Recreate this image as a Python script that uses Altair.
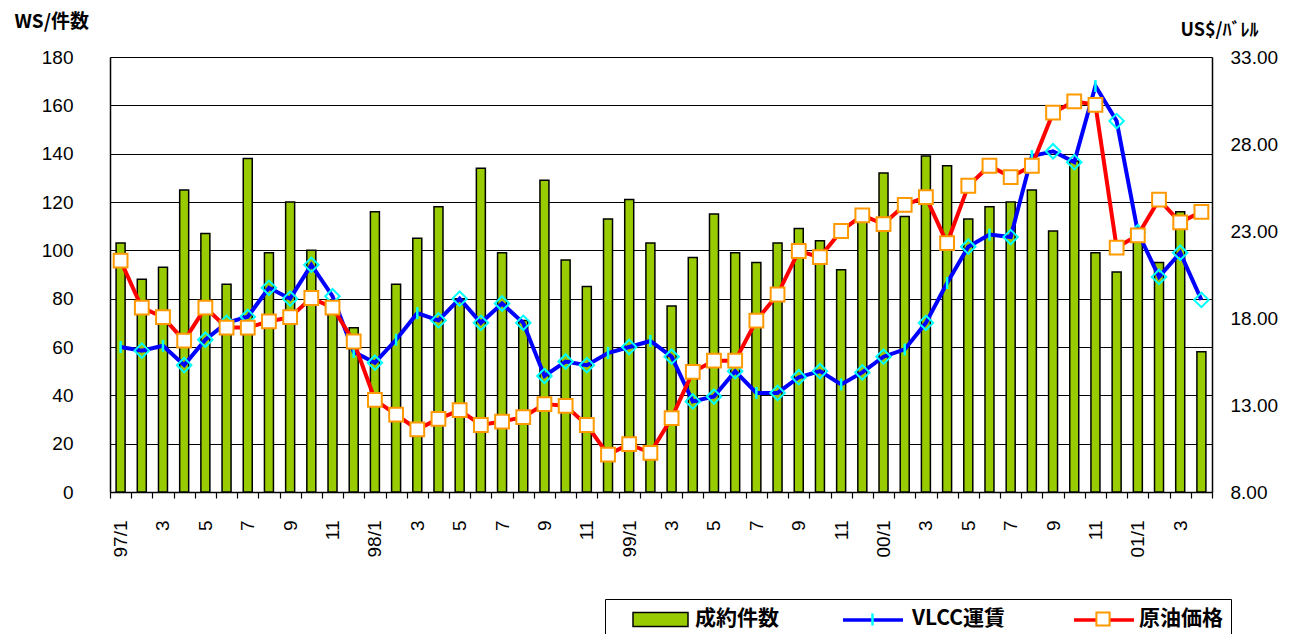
import altair as alt
import pandas as pd

months = ["97/1", "97/2", "97/3", "97/4", "97/5", "97/6", "97/7", "97/8", "97/9", "97/10", "97/11", "97/12",
          "98/1", "98/2", "98/3", "98/4", "98/5", "98/6", "98/7", "98/8", "98/9", "98/10", "98/11", "98/12",
          "99/1", "99/2", "99/3", "99/4", "99/5", "99/6", "99/7", "99/8", "99/9", "99/10", "99/11", "99/12",
          "00/1", "00/2", "00/3", "00/4", "00/5", "00/6", "00/7", "00/8", "00/9", "00/10", "00/11", "00/12",
          "01/1", "01/2", "01/3", "01/4"]

contracts = [103, 88, 93, 125, 107, 86, 138, 99, 120, 100, 79, 68,
             116, 86, 105, 118, 80, 134, 99, 71, 129, 96, 85, 113,
             121, 103, 77, 97, 115, 99, 95, 103, 109, 104, 92, 114,
             132, 114, 139, 135, 113, 118, 120, 125, 108, 137, 99, 91,
             108, 95, 116, 58]

vlcc = [60, 58.5, 60.5, 52.5, 63, 70, 72.5, 84.5, 80, 94, 81, 58,
        53.5, 63, 74, 71, 80, 70, 78, 70, 48, 54, 52.5, 57.5,
        60, 62.5, 56, 37.5, 39.5, 50, 41, 41, 47.5, 50, 44.5, 49.5,
        56, 59, 70, 86.5, 101.5, 106.5, 105.5, 139, 141, 136.5, 168, 153.5,
        107.5, 89, 99, 79.5]

crude = [21.3, 18.6, 18.05, 16.7, 18.6, 17.45, 17.45, 17.8, 18.05, 19.15, 18.6, 16.65,
         13.3, 12.45, 11.6, 12.2, 12.7, 11.85, 12.05, 12.3, 13.05, 12.95, 11.85, 10.15,
         10.75, 10.25, 12.25, 14.9, 15.55, 15.55, 17.85, 19.35, 21.85, 21.5, 23.0, 23.9,
         23.4, 24.5, 24.95, 22.3, 25.6, 26.75, 26.1, 26.75, 29.8, 30.45, 30.25, 22.05,
         22.75, 24.8, 23.5, 24.1]

# marker kind seen on the VLCC line: T = tick, D = diamond
vlcc_marker = ["T", "D", "T", "D", "D", "D", "D", "D", "D", "D", "D", "T",
               "D", "T", "T", "D", "D", "D", "D", "D", "D", "D", "D", "T",
               "D", "T", "D", "D", "D", "D", "T", "D", "D", "D", "T", "D",
               "D", "T", "D", "T", "D", "T", "D", "T", "D", "D", "T", "D",
               "D", "D", "D", "D"]

series_names = ["成約件数", "VLCC運賃", "原油価格"]
left_ticks = [0, 20, 40, 60, 80, 100, 120, 140, 160, 180]
right_ticks = [8, 13, 18, 23, 28, 33]

df = pd.DataFrame({
    "month": months,
    "contracts": contracts,
    "vlcc": vlcc,
    "crude": crude,
    "marker": vlcc_marker,
    "s_bar": series_names[0],
    "s_vl": series_names[1],
    "s_cr": series_names[2],
})

GREEN = "#99CC00"
BLUE = "#0000FF"
CYAN = "#00FFFF"
RED = "#FF0000"
ORANGE = "#FF9900"
T = "transparent"
NUMFONT = "Liberation Sans"
JPFONT = "Noto Sans CJK JP"

x_enc = alt.X(
    "month:N",
    scale=alt.Scale(domain=months, paddingInner=0, paddingOuter=0),
    axis=alt.Axis(
        title=None, labelAngle=-90, tickBand="extent", tickSize=6, tickColor="black", tickWidth=1.2,
        labelPadding=22, labelFont=NUMFONT, labelFontSize=19, labelColor="black",
        domainColor="black", domainWidth=1.5, labelOverlap=False, grid=False,
        labelExpr="!isString(datum.value) ? '' : (slice(datum.value, 3) == '1' ? datum.value : (parseInt(slice(datum.value, 3)) % 2 == 1 ? slice(datum.value, 3) : ''))",
    ),
)

LEFT_SCALE = alt.Scale(domain=[0, 180], nice=False, zero=True)
RIGHT_SCALE = alt.Scale(domain=[8, 33], nice=False, zero=False)

LEG_Y = 542
leg_main = dict(
    orient="none", legendX=495, legendY=LEG_Y, direction="horizontal", padding=8, title=None,
    symbolSize=484, symbolOffset=35.5, labelOffset=22.5, columnPadding=51,
    labelFont=JPFONT, labelFontSize=21, labelFontWeight="bold", labelColor="black", labelLimit=400,
)
# single-symbol legends drawn inside the main legend box (no label text)
def leg_symbol(x, **kw):
    return alt.Legend(orient="none", legendX=x, legendY=LEG_Y, padding=8, title=None,
                      symbolSize=484, symbolOffset=0, labelOffset=0, labelExpr="''",
                      labelFontSize=21, **kw)

RECT_PATH = "M-2.5,-0.64H2.5V0.64H-2.5Z"
LINE_PATH = "M-2.73,0H2.73"
TICK_PATH = "M0,-0.55V0.55"
SQ_PATH = "M-0.6,-0.6H0.6V0.6H-0.6Z"
VL_LEG_X = 742
CR_LEG_X = 973

bar_legend = alt.Legend(strokeColor="black", symbolType=RECT_PATH, symbolStrokeWidth=1.5, **leg_main)

bars = alt.Chart(df).mark_bar(size=9, strokeWidth=1.5).encode(
    x=x_enc,
    y=alt.Y("contracts:Q", scale=LEFT_SCALE, axis=alt.Axis(
        orient="left", values=left_ticks, grid=True, gridColor="black", gridWidth=1.2,
        ticks=False, tickSize=0, labelPadding=37, domainColor="black", domainWidth=1.5,
        labelFont=NUMFONT, labelFontSize=19, labelColor="black",
        title="WS/件数", titleAngle=0, titleX=-96, titleY=-36, titleAlign="left", titleBaseline="middle",
        titleFont=JPFONT, titleFontSize=19, titleFontWeight="bold", titleColor="black")),
    fill=alt.Fill("s_bar:N", scale=alt.Scale(domain=series_names, range=[GREEN, T, T]), legend=bar_legend),
    stroke=alt.Stroke("s_bar:N", scale=alt.Scale(domain=series_names, range=["black", T, T]), legend=bar_legend),
)

vl_line = alt.Chart(df).mark_line(strokeWidth=4).encode(
    x=x_enc,
    y=alt.Y("vlcc:Q", scale=LEFT_SCALE, axis=None),
    color=alt.Color("s_vl:N", scale=alt.Scale(domain=[series_names[1]], range=[BLUE]),
                    legend=leg_symbol(VL_LEG_X, symbolType=LINE_PATH, symbolStrokeWidth=3.5)),
)

vl_ticks = alt.Chart(df).transform_filter(alt.datum.marker == "T").mark_point(
    shape="M0,-1V1", size=144, strokeWidth=2.5, filled=False, opacity=1).encode(
    x=x_enc,
    y=alt.Y("vlcc:Q", scale=LEFT_SCALE, axis=None),
    color=alt.Color("s_vl:N", scale=alt.Scale(domain=[series_names[1]], range=[CYAN]),
                    legend=leg_symbol(VL_LEG_X, symbolType=TICK_PATH, symbolStrokeWidth=2.5)),
)

vl_diamonds = alt.Chart(df).transform_filter(alt.datum.marker == "D").mark_point(
    shape="diamond", size=210, strokeWidth=2, filled=False, color=CYAN, opacity=1).encode(
    x=x_enc,
    y=alt.Y("vlcc:Q", scale=LEFT_SCALE, axis=None),
)

cr_line = alt.Chart(df).mark_line(strokeWidth=4).encode(
    x=x_enc,
    y=alt.Y("crude:Q", scale=RIGHT_SCALE, axis=alt.Axis(
        orient="right", values=right_ticks, format=".2f", grid=False, ticks=False, tickSize=0,
        labelPadding=18, domainColor="black", domainWidth=1.5,
        labelFont=NUMFONT, labelFontSize=19, labelColor="black",
        title="US$/ﾊﾞﾚﾙ", titleAngle=0, titleX=46, titleY=-27, titleAlign="right", titleBaseline="middle",
        titleFont=JPFONT, titleFontSize=18, titleFontWeight="bold", titleColor="black")),
    color=alt.Color("s_cr:N", scale=alt.Scale(domain=[series_names[2]], range=[RED]),
                    legend=leg_symbol(CR_LEG_X, symbolType=LINE_PATH, symbolStrokeWidth=3.5)),
)

sq_legend = leg_symbol(CR_LEG_X, symbolType=SQ_PATH, symbolStrokeWidth=2)
cr_squares = alt.Chart(df).mark_point(shape="square", size=190, strokeWidth=2, filled=True, opacity=1).encode(
    x=x_enc,
    y=alt.Y("crude:Q", scale=RIGHT_SCALE, axis=None),
    fill=alt.Fill("s_cr:N", scale=alt.Scale(domain=[series_names[2]], range=["white"]), legend=sq_legend),
    stroke=alt.Stroke("s_cr:N", scale=alt.Scale(domain=[series_names[2]], range=[ORANGE]), legend=sq_legend),
)

chart = alt.layer(bars, vl_line, vl_ticks, vl_diamonds, cr_line, cr_squares).resolve_scale(
    y="independent", color="independent", fill="independent", stroke="independent"
).properties(
    width=1102, height=435,
    padding={"left": 102, "top": 49, "right": 83, "bottom": 150},
    autosize=alt.AutoSizeParams(type="none"),
).configure_view(stroke="black", strokeWidth=1.5).configure(background="white")

chart.save("out.html", embed_options={"renderer": "svg", "actions": False})
